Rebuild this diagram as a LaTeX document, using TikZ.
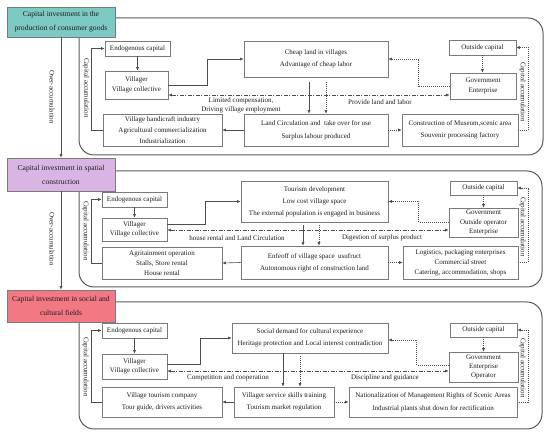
\documentclass[tikz,border=0pt]{standalone}
\usepackage{fontspec}
\setmainfont{Liberation Serif}
\usetikzlibrary{arrows.meta,calc}
\definecolor{ln}{HTML}{4D4D4D}
\definecolor{bx}{HTML}{7A7A7A}
\definecolor{pn}{HTML}{5A5A5A}
\definecolor{tx}{HTML}{1E1E1E}
\definecolor{tealc}{HTML}{7DC9C3}
\definecolor{lilac}{HTML}{D9B5E3}
\definecolor{pinkc}{HTML}{F27883}
\tikzset{
 box/.style={draw=bx, line width=0.6pt, fill=white, inner sep=0pt, align=center, text=tx},
 fs/.style={font=\fontsize{7}{#1}\selectfont},
 title/.style={draw=bx, line width=0.6pt, inner sep=0pt, align=center, text=tx, font=\fontsize{7.6}{14}\selectfont, minimum width=108pt},
 panel/.style={draw=pn, line width=1pt, rounded corners=15pt},
 arr/.style={draw=ln, line width=0.6pt, -{Latex[length=3.5pt,width=3pt]}},
 dotarr/.style={arr, dash pattern=on 1pt off 1pt},
 dd/.style={draw=ln, line width=0.6pt, dash pattern=on 4pt off 1.5pt on 1pt off 1.5pt, {Latex[length=3.5pt,width=3pt]}-{Latex[length=3.5pt,width=3pt]}},
 lbl/.style={font=\fontsize{7}{9}\selectfont, text=tx, inner sep=0pt, align=center},
 vlbl/.style={lbl, rotate=-90},
}
\begin{document}
\begin{tikzpicture}[x=1pt,y=-1pt]
\useasboundingbox (0,0) rectangle (550,435);
% panels
\draw[panel] (79,18) rectangle (543,155);
\draw[panel] (79,171) rectangle (542,287);
\draw[panel] (79,302) rectangle (542,429);
% titles
\node[title, fill=tealc, minimum height=30pt] (t1) at (61,22) {Capital investment in the\\production of consumer goods};
\node[title, fill=lilac, minimum height=33pt] (t2) at (61,174.5) {Capital investment in spatial\\construction};
\node[title, fill=pinkc, minimum height=32pt] (t3) at (61,306) {Capital investment in social and\\cultural fields};
\draw[arr] (t1.south) -- (t2.north);
\draw[arr] (t2.south) -- (t3.north);
\node[vlbl] (oa1) at (52,97) {Over-accumulation};
\node[vlbl] (oa2) at (52,239) {Over-accumulation};

% ---------- Panel 1 ----------
\node[box, fs=9, minimum width=65pt, minimum height=15pt] (endo1) at (137.5,48.5) {Endogenous capital};
\node[box, fs=10, minimum width=63pt, minimum height=28pt] (vil1) at (136.5,85) {Villager\\Village collective};
\node[box, fs=11, minimum width=119pt, minimum height=32pt] (hand1) at (162.5,130) {Village handicraft industry\\Agricultural commercialization\\Industrialization};
\node[box, fs=12, minimum width=144pt, minimum height=36pt] (cheap1) at (316,59) {Cheap land in villages\\Advantage of cheap labor};
\node[box, fs=13, minimum width=144pt, minimum height=32pt] (land1) at (316,130) {Land Circulation and\ \ take over for use\\Surplus labour produced};
\node[box, fs=12, minimum width=116pt, minimum height=32pt] (cons1) at (460,130) {Construction of Museum,scenic area\\Souvenir processing factory};
\node[box, fs=9, minimum width=67pt, minimum height=15pt] (out1) at (482.5,47.5) {Outside capital};
\node[box, fs=9.5, minimum width=66pt, minimum height=26pt] (gov1) at (483,86) {Government\\Enterprise};
\node[vlbl] (ca1) at (86,88) {Capital accumulation};
\node[vlbl] (cr1) at (522.5,92) {Capital accumulation};

\draw[arr] (endo1.south) -- (endo1.south |- vil1.north);
\draw[arr] (hand1.west) -- ++(-11,0) |- (endo1.west);
\draw[arr] (vil1.east) -- ++(39,0) |- (cheap1.west);
\coordinate (dd1) at ($(vil1.east)+(0,10)$);
\draw[dd] (dd1) -- (dd1 -| gov1.west);
\node[lbl] (l1a) at (241,105.5) {Limited compensation,\\Driving village employment};
\node[lbl] (l1b) at (380,102) {Provide land and labor};
\draw[arr] ($(cheap1.south)+(-7,5)$) -- ($(land1.north)+(-7,0)$);
\draw[dotarr] ($(cheap1.south)+(10,5)$) -- ($(land1.north)+(10,0)$);
\draw[arr] (land1.west) -- (hand1.east);
\draw[dotarr] (land1.east) -- (cons1.west);
\draw[dotarr] (gov1.west) -- ++(-31,0) |- (cheap1.east);
\draw[dotarr] (out1.south) -- (out1.south |- gov1.north);
\draw[dotarr] (cons1.east) -- ++(10,0) |- (out1.east);

% ---------- Panel 2 ----------
\node[box, fs=9, minimum width=65pt, minimum height=15pt] (endo2) at (134.5,199.5) {Endogenous capital};
\node[box, fs=9, minimum width=65pt, minimum height=23pt] (vil2) at (134.5,229.5) {Villager\\Village collective};
\node[box, fs=10, minimum width=120pt, minimum height=32pt] (agri2) at (162,263) {Agritainment operation\\Stalls, Store rental\\House rental};
\node[box, fs=12, minimum width=147pt, minimum height=41pt] (tour2) at (314.5,201.5) {Tourism development\\Low cost village space\\The external population is engaged in business};
\node[box, fs=12, minimum width=147pt, minimum height=33pt] (enf2) at (314.5,262.5) {Enfeoff of village space\ \ usufruct\\Autonomous right of construction land};
\node[box, fs=10, minimum width=115pt, minimum height=33pt] (log2) at (460.5,262.5) {Logistics, packaging enterprises\\Commercial street\\Catering, accommodation, shops};
\node[box, fs=9, minimum width=67pt, minimum height=14pt] (out2) at (483.5,188) {Outside capital};
\node[box, fs=9.5, minimum width=69pt, minimum height=29pt] (gov2) at (483.5,222.5) {Government\\Outside operator\\Enterprise};
\node[vlbl] (ca2) at (85.5,231) {Capital accumulation};
\node[vlbl] (cr2) at (522.5,227) {Capital accumulation};

\draw[arr] (endo2.south) -- (vil2.north);
\draw[arr] (agri2.west) -- ++(-10,0) |- (endo2.west);
\draw[arr] ($(vil2.east)+(0,-5)$) -- ++(38,0) |- (tour2.west);
\coordinate (dd2) at ($(vil2.east)+(0,0.5)$);
\draw[dd] (dd2) -- (dd2 -| gov2.west);
\node[lbl] (l2a) at (237,238) {house rental and Land Circulation};
\node[lbl] (l2b) at (382,238) {Digestion of surplus product};
\draw[arr] ($(tour2.south)+(-11.5,3)$) -- ($(enf2.north)+(-11.5,0)$);
\draw[dotarr] ($(tour2.south)+(4.5,3)$) -- ($(enf2.north)+(4.5,0)$);
\draw[arr] (enf2.west) -- (agri2.east);
\draw[dotarr] (enf2.east) -- (log2.west);
\draw[dotarr] (gov2.west) -- ++(-30,0) |- (tour2.east);
\draw[dotarr] (out2.south) -- (gov2.north);
\draw[dotarr] (log2.east) -- ++(10,0) |- (out2.east);

% ---------- Panel 3 ----------
\node[box, fs=9, minimum width=65pt, minimum height=15pt] (endo3) at (134.5,330.5) {Endogenous capital};
\node[box, fs=9, minimum width=65pt, minimum height=25pt] (vil3) at (134.5,366.5) {Villager\\Village collective};
\node[box, fs=12, minimum width=120pt, minimum height=30pt] (vtc3) at (162,402) {Village tourism company\\Tour guide, drivers activities};
\node[box, fs=11.5, minimum width=156pt, minimum height=30pt] (soc3) at (310,338) {Social demand for cultural experience\\Heritage protection and Local interest contradiction};
\node[box, fs=11.5, minimum width=100pt, minimum height=30pt] (vss3) at (284,402) {Villager service skills training\\Tourism market regulation};
\node[box, fs=13, minimum width=168pt, minimum height=30pt] (nat3) at (433,402) {Nationalization of Management Rights of Scenic Areas\\Industrial plants shut down for rectification};
\node[box, fs=9, minimum width=67pt, minimum height=14pt] (out3) at (483.5,330) {Outside capital};
\node[box, fs=9, minimum width=69pt, minimum height=30pt] (gov3) at (483.5,367) {Government\\Enterprise\\Operator};
\node[vlbl] (ca3) at (85.5,367) {Capital accumulation};
\node[vlbl] (cr3) at (522.5,368) {Capital accumulation};

\draw[arr] (endo3.south) -- (vil3.north);
\draw[arr] (vtc3.west) -- ++(-10,0) |- (endo3.west);
\draw[arr] ($(vil3.east)+(0,-2.5)$) -- ++(33,0) |- (soc3.west);
\coordinate (dd3) at ($(vil3.east)+(0,4.5)$);
\draw[dd] (dd3) -- (dd3 -| gov3.west);
\node[lbl] (l3a) at (228,378) {Competition and cooperation};
\node[lbl] (l3b) at (385,378) {Discipline and guidance};
\draw[arr] ($(soc3.south)+(-27,0)$) -- ($(vss3.north)+(-1,0)$);
\draw[dotarr] ($(soc3.south)+(-10,3)$) -- ($(vss3.north)+(16,0)$);
\draw[arr] (vss3.west) -- (vtc3.east);
\draw[dotarr] (vss3.east) -- (nat3.west);
\draw[dotarr] ($(gov3.west)+(0,-2)$) -- ++(-32,0) |- ($(soc3.east)+(0,2)$);
\draw[dotarr] (out3.south) -- (gov3.north);
\draw[dotarr] (nat3.east) -- ++(11,0) |- (out3.east);
\end{tikzpicture}
\end{document}
